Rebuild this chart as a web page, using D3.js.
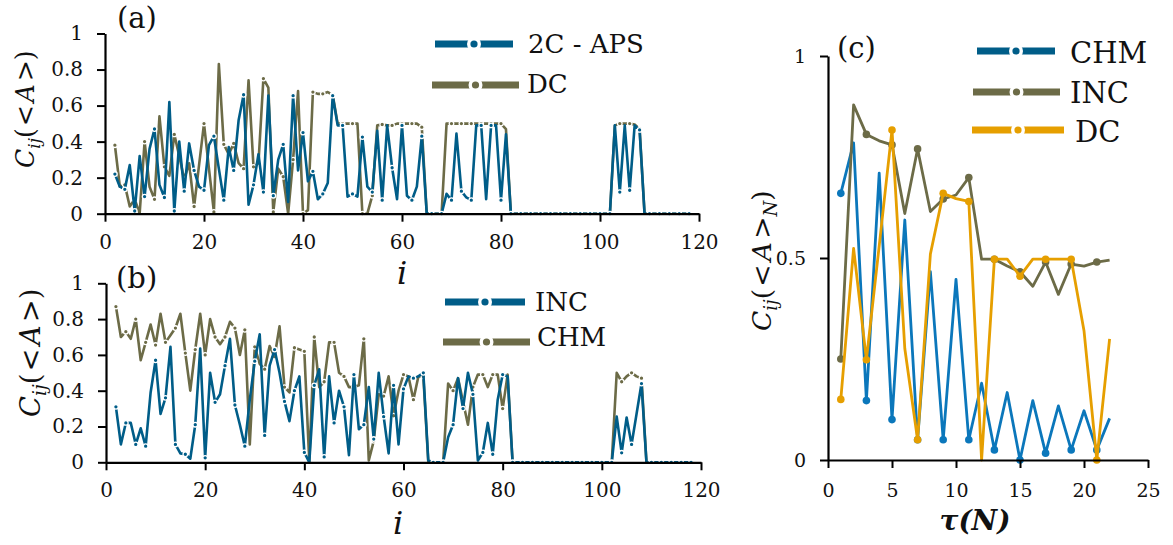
<!DOCTYPE html>
<html>
<head>
<meta charset="utf-8">
<script src="https://cdn.jsdelivr.net/npm/d3@7"></script>
<style>
  body { margin: 0; background: #fff; }
  text { fill: #111; }
</style>
</head>
<body>
<svg id="chart" width="1173" height="545"></svg>
<script>
// Data_____________________________________________________________________
// panels (a) and (b): index i runs from 2 to 118
const iStart = 2;
const iEnd = 118;

const apsA = [
  0.22, 0.15, 0.135, 0.27, 0.015, 0.32, 0.095, 0.36, 0.47, 0.16,
  0.09, 0.62, 0.015, 0.40, 0.125, 0.39, 0.24, 0.15, 0.13, 0.38,
  0.43, 0.25, 0.075, 0.37, 0.24, 0.52, 0.66, 0.05, 0.16, 0.33,
  0.12, 0.655, 0.10, 0.30, 0.385, 0.065, 0.655, 0.24, 0.45, 0.18,
  0.235, 0.08, 0.11, 0.17, 0.655, 0.49, 0.49, 0.095, 0.11, 0.095,
  0.425, 0.15, 0.12, 0.46, 0.075, 0.49, 0.255, 0.08, 0.49, 0.10,
  0.075, 0.15, 0.43, 0, 0, 0, 0, 0.11, 0.075, 0.445,
  0.125, 0.09, 0.075, 0.49, 0.49, 0.08, 0.49, 0.49, 0.075, 0.44,
  0, 0, 0, 0, 0, 0, 0, 0, 0, 0,
  0, 0, 0, 0, 0, 0, 0, 0, 0, 0,
  0, 0.49, 0.12, 0.49, 0.13, 0.49, 0.465, 0, 0, 0,
  0, 0, 0, 0, 0, 0, 0
];
const dcA = [
  0.38, 0.15, 0.16, 0.04, 0.08, 0.0, 0.40, 0.15, 0.08, 0.54,
  0.26, 0.21, 0.44, 0.32, 0.19, 0.28, 0.04, 0.27, 0.50, 0.25,
  0.01, 0.83, 0.385, 0.33, 0.39, 0.28, 0.25, 0.74, 0.26, 0.28,
  0.75, 0.70, 0.01, 0.25, 0.205, 0.0, 0.30, 0.68, 0.0, 0.02,
  0.675, 0.665, 0.665, 0.675, 0.66, 0.50, 0.50, 0.50, 0.50, 0.50,
  0.0, 0.0, 0.10, 0.49, 0.495, 0.49, 0.49, 0.50, 0.50, 0.50,
  0.50, 0.50, 0.48, 0, 0, 0, 0, 0.50, 0.50, 0.50,
  0.50, 0.50, 0.50, 0.50, 0.50, 0.50, 0.50, 0.50, 0.50, 0.47,
  0, 0, 0, 0, 0, 0, 0, 0, 0, 0,
  0, 0, 0, 0, 0, 0, 0, 0, 0, 0,
  0, 0.49, 0.50, 0.50, 0.50, 0.495, 0.47, 0, 0, 0,
  0, 0, 0, 0, 0, 0, 0
];
const incB = [
  0.31, 0.10, 0.22, 0.22, 0.10, 0.19, 0.09, 0.39, 0.57, 0.27,
  0.36, 0.645, 0.10, 0.05, 0.045, 0.02, 0.21, 0.635, 0.025, 0.50,
  0.335, 0.38, 0.54, 0.69, 0.32, 0.21, 0.09, 0.35, 0.565, 0.715,
  0.15, 0.54, 0.63, 0.50, 0.34, 0.23, 0.40, 0.48, 0.055, 0.0,
  0.43, 0.52, 0.03, 0.48, 0.22, 0.40, 0.31, 0.04, 0.49, 0.185,
  0.21, 0.42, 0.13, 0.50, 0.255, 0.05, 0.43, 0.10, 0.41, 0.48,
  0.47, 0.48, 0.50, 0.01, 0, 0, 0, 0.14, 0.21, 0.47,
  0.30, 0.50, 0.38, 0.01, 0.055, 0.22, 0.045, 0.35, 0.49, 0.48,
  0, 0, 0, 0, 0, 0, 0, 0, 0, 0,
  0, 0, 0, 0, 0, 0, 0, 0, 0, 0,
  0, 0.255, 0.053, 0.25, 0.10, 0.27, 0.44, 0, 0, 0,
  0, 0, 0, 0, 0, 0, 0
];
const chmB = [
  0.87, 0.70, 0.73, 0.69, 0.80, 0.57, 0.67, 0.77, 0.655, 0.83,
  0.67, 0.71, 0.75, 0.83, 0.61, 0.40, 0.63, 0.83, 0.60, 0.80,
  0.70, 0.66, 0.70, 0.785, 0.75, 0.60, 0.74, 0.10, 0.645, 0.55,
  0.52, 0.65, 0.59, 0.76, 0.42, 0.39, 0.64, 0.63, 0.62, 0.0,
  0.70, 0.42, 0.45, 0.67, 0.67, 0.50, 0.48, 0.42, 0.42, 0.43,
  0.69, 0.01, 0.12, 0.38, 0.37, 0.48, 0.26, 0.40, 0.49, 0.48,
  0.35, 0.48, 0.48, 0, 0, 0, 0, 0.44, 0.40, 0.47,
  0.34, 0.21, 0.42, 0.49, 0.49, 0.42, 0.49, 0.49, 0.30, 0.49,
  0, 0, 0, 0, 0, 0, 0, 0, 0, 0,
  0, 0, 0, 0, 0, 0, 0, 0, 0, 0,
  0, 0.50, 0.45, 0.48, 0.50, 0.48, 0.47, 0, 0, 0,
  0, 0, 0, 0, 0, 0, 0
];

// panel (c): tau = 1..22
const tauC = [1, 2, 3, 4, 5, 6, 7, 8, 9, 10, 11, 12, 13, 14, 15, 16, 17, 18, 19, 20, 21, 22];
const chmC = [0.66, 0.785, 0.147, 0.71, 0.10, 0.594, 0.05, 0.466, 0.05, 0.447, 0.05,
              0.19, 0.025, 0.167, 0.0, 0.147, 0.017, 0.134, 0.025, 0.122, 0.025, 0.103];
const incC = [0.25, 0.879, 0.806, 0.79, 0.78, 0.61, 0.77, 0.615, 0.646, 0.656, 0.699,
              0.497, 0.497, 0.48, 0.466, 0.43, 0.49, 0.41, 0.485, 0.48, 0.49, 0.495];
const dcC = [0.15, 0.524, 0.248, 0.53, 0.817, 0.276, 0.05, 0.51, 0.66, 0.647, 0.64,
             0.0, 0.497, 0.497, 0.455, 0.497, 0.497, 0.497, 0.497, 0.32, 0.0, 0.30];

// ticks and labels
const yTicksAB = [0, 0.2, 0.4, 0.6, 0.8, 1];
const xTicksAB = [0, 20, 40, 60, 80, 100, 120];
const yTicksC = [0, 0.5, 1];
const xTicksC = [0, 5, 10, 15, 20, 25];
const legendA = ['2C - APS', 'DC'];
const legendB = ['INC', 'CHM'];
const legendC = ['CHM', 'INC', 'DC'];

// Colors___________________________________________________________________
const BLUE = '#005d88';
const OLIVE = '#6c6b47';
const BLUE_C = '#0b77bb';
const ORANGE = '#e69f00';
const SERIF = 'DejaVu Serif';

const svg = d3.select('#chart');
const iIdx = d3.range(iStart, iEnd + 1);

// Helpers__________________________________________________________________
function drawAxes(x, y, xTicks, yTicks, tickFont, xPad, yPad) {
  const gx = svg.append('g')
    .attr('transform', `translate(0, ${y(0)})`)
    .call(d3.axisBottom(x).tickValues(xTicks).tickSize(8).tickSizeOuter(0).tickPadding(xPad).tickFormat(d => String(d)));
  const gy = svg.append('g')
    .attr('transform', `translate(${x(0)}, 0)`)
    .call(d3.axisLeft(y).tickValues(yTicks).tickSize(8).tickSizeOuter(0).tickPadding(yPad).tickFormat(d => String(d)));
  [gx, gy].forEach(g => {
    g.attr('font-family', SERIF);
    g.select('.domain').attr('stroke', '#000').attr('stroke-width', 2.2);
    g.selectAll('.tick line').attr('stroke', '#000').attr('stroke-width', 2);
    g.selectAll('.tick text').attr('font-size', tickFont).attr('fill', '#111');
  });
}

function drawSeries(x, y, xs, vals, color, lw, markFn, r, edge) {
  const line = d3.line().x((d, k) => x(xs[k])).y(d => y(d));
  svg.append('path')
    .datum(vals)
    .attr('d', line)
    .attr('fill', 'none')
    .attr('stroke', color)
    .attr('stroke-width', lw)
    .attr('stroke-linejoin', 'round');
  const pts = vals.map((v, k) => [xs[k], v]).filter(p => markFn(p[0]));
  svg.append('g')
    .selectAll('circle')
    .data(pts)
    .enter()
    .append('circle')
    .attr('cx', d => x(d[0]))
    .attr('cy', d => y(d[1]))
    .attr('r', r)
    .attr('fill', color)
    .attr('stroke', edge ? '#fff' : 'none')
    .attr('stroke-width', edge ? 1.3 : 0);
}

function legendItem(x0, x1, cy, color, label, tx, ty, size) {
  const g = svg.append('g');
  g.append('line')
    .attr('x1', x0).attr('x2', x1).attr('y1', cy).attr('y2', cy)
    .attr('stroke', color).attr('stroke-width', 7);
  const cx = (x0 + x1) / 2;
  g.append('circle').attr('cx', cx).attr('cy', cy).attr('r', 7).attr('fill', '#fff');
  g.append('circle').attr('cx', cx).attr('cy', cy).attr('r', 3.6).attr('fill', color);
  g.append('text').attr('x', tx).attr('y', ty).attr('font-size', size)
    .attr('font-family', SERIF).text(label);
}

// rotated label C_ij(<A>), fitted to a target length and centred on cy
function yLabel(cx, cy, size, len, sub) {
  const t = svg.append('text')
    .attr('font-family', SERIF)
    .attr('font-size', size);
  t.append('tspan').attr('font-style', 'italic').text('C');
  t.append('tspan').attr('font-style', 'italic').attr('font-size', size * 0.68).attr('dy', size * 0.22).text('ij');
  t.append('tspan').attr('dy', -size * 0.22).text('(');
  t.append('tspan').attr('dx', 2).text('<');
  t.append('tspan').attr('dx', 3).attr('font-style', 'italic').text('A');
  t.append('tspan').attr('dx', 3).text('>');
  if (sub) {
    t.append('tspan').attr('font-style', 'italic').attr('font-size', size * 0.68).attr('dy', size * 0.22).text(sub);
    t.append('tspan').attr('dy', -size * 0.22).text(')');
  } else {
    t.append('tspan').text(')');
  }
  const w = t.node().getComputedTextLength() || len;
  const k = len / w;
  t.attr('transform', `translate(${cx}, ${cy + len / 2}) rotate(-90) scale(${k})`);
}

const even = v => v % 2 === 0;
const odd = v => v % 2 === 1;

// Panel (a)________________________________________________________________
const xA = d3.scaleLinear().domain([0, 120]).range([105, 699]);
const yA = d3.scaleLinear().domain([0, 1]).range([213.7, 33.5]);
drawSeries(xA, yA, iIdx, dcA, OLIVE, 2.6, even, 2.3, true);
drawSeries(xA, yA, iIdx, apsA, BLUE, 2.6, even, 2.3, true);
drawAxes(xA, yA, xTicksAB, yTicksAB, 20, 13, 14);
legendItem(435, 513, 44, BLUE, legendA[0], 528, 53, 26);
legendItem(432, 519, 85, OLIVE, legendA[1], 527, 93, 26);
svg.append('text').attr('x', 117).attr('y', 28).attr('font-size', 29).attr('font-family', SERIF).text('(a)');
yLabel(34, 113, 26, 110, null);
svg.append('text').attr('x', 402).attr('y', 284).attr('text-anchor', 'middle').attr('font-family', SERIF)
  .attr('font-size', 32).attr('font-style', 'italic').text('i');

// Panel (b)________________________________________________________________
const xB = d3.scaleLinear().domain([0, 120]).range([106, 701]);
const yB = d3.scaleLinear().domain([0, 1]).range([462.3, 283.3]);
drawSeries(xB, yB, iIdx, chmB, OLIVE, 2.6, even, 2.3, true);
drawSeries(xB, yB, iIdx, incB, BLUE, 2.6, even, 2.3, true);
drawAxes(xB, yB, xTicksAB, yTicksAB, 20, 13, 14);
legendItem(445, 525, 302, BLUE, legendB[0], 535, 311, 26);
legendItem(443, 530, 342, OLIVE, legendB[1], 537, 346, 26);
svg.append('text').attr('x', 116).attr('y', 288).attr('font-size', 29).attr('font-family', SERIF).text('(b)');
yLabel(40, 357, 26, 120, null);
svg.append('text').attr('x', 398).attr('y', 534).attr('text-anchor', 'middle').attr('font-family', SERIF)
  .attr('font-size', 32).attr('font-style', 'italic').text('i');

// Panel (c)________________________________________________________________
const xC = d3.scaleLinear().domain([0, 25]).range([828, 1148]);
const yC = d3.scaleLinear().domain([0, 1]).range([460, 56]);
drawSeries(xC, yC, tauC, chmC, BLUE_C, 2.8, odd, 3.8, false);
drawSeries(xC, yC, tauC, incC, OLIVE, 2.8, odd, 3.8, false);
drawSeries(xC, yC, tauC, dcC, ORANGE, 2.8, odd, 3.8, false);
drawAxes(xC, yC, xTicksC, yTicksC, 19, 16, 14);
legendItem(977, 1055, 51, BLUE, legendC[0], 1070, 63, 29);
legendItem(973, 1060, 92, OLIVE, legendC[1], 1070, 103, 29);
legendItem(972, 1064, 130, ORANGE, legendC[2], 1075, 142, 29);
svg.append('text').attr('x', 837).attr('y', 58).attr('font-size', 29).attr('font-family', SERIF).text('(c)');
yLabel(771, 265, 24, 132, 'N');
const tl = svg.append('text').attr('x', 975).attr('y', 530).attr('text-anchor', 'middle').attr('font-family', SERIF)
  .attr('font-size', 28).attr('font-weight', 'bold').attr('font-style', 'italic');
tl.append('tspan').text('τ');
tl.append('tspan').text('(N)');
</script>
</body>
</html>
